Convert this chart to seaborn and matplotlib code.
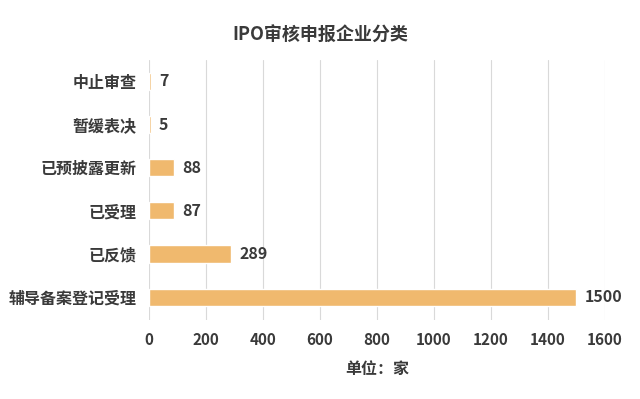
import seaborn as sns
import matplotlib.pyplot as plt
import pandas as pd

# IPO categories and counts
categories = ['中止审查', '暂缓表决', '已预披露更新', '已受理', '已反馈', '辅导备案登记受理']
counts = [7, 5, 88, 87, 289, 1500]
xticks = [0, 200, 400, 600, 800, 1000, 1200, 1400, 1600]

df = pd.DataFrame({'category': categories, 'count': counts})

sns.set_style('white')
plt.rcParams['font.family'] = ['Noto Sans CJK SC', 'DejaVu Sans']
text_color = '#3a3a3a'

fig = plt.figure(figsize=(6.4, 3.99), dpi=100)
ax = fig.add_axes([0.233, 0.198, 0.712, 0.652])

sns.barplot(data=df, x='count', y='category', color='#F0B96E', width=0.4,
            saturation=1, ax=ax, zorder=3)

for i, v in enumerate(counts):
    ax.annotate(str(v), (v, i), xytext=(6, 0), textcoords='offset points',
                va='center', ha='left', fontsize=11.5, fontweight='bold', color=text_color)

ax.set_xlim(0, 1600)
ax.set_ylim(5.53, -0.5)
ax.set_xticks(xticks)
ax.set_xticklabels([str(t) for t in xticks], fontsize=11, fontweight='bold', color=text_color)
ax.set_yticklabels(categories, fontsize=11.5, fontweight='bold', color=text_color)
ax.tick_params(axis='x', length=0, pad=9)
ax.tick_params(axis='y', length=0, pad=9)
ax.grid(axis='x', color='#d9d9d9', linewidth=0.8, zorder=0)
for s in ax.spines.values():
    s.set_visible(False)

ax.set_ylabel('')
ax.set_xlabel('单位：家', fontsize=11.5, fontweight='bold', color=text_color, labelpad=9)
fig.text(0.5, 0.912, 'IPO审核申报企业分类', ha='center', va='center', fontsize=13,
         fontweight='bold', color=text_color)

fig.savefig('out.png', dpi=100)
